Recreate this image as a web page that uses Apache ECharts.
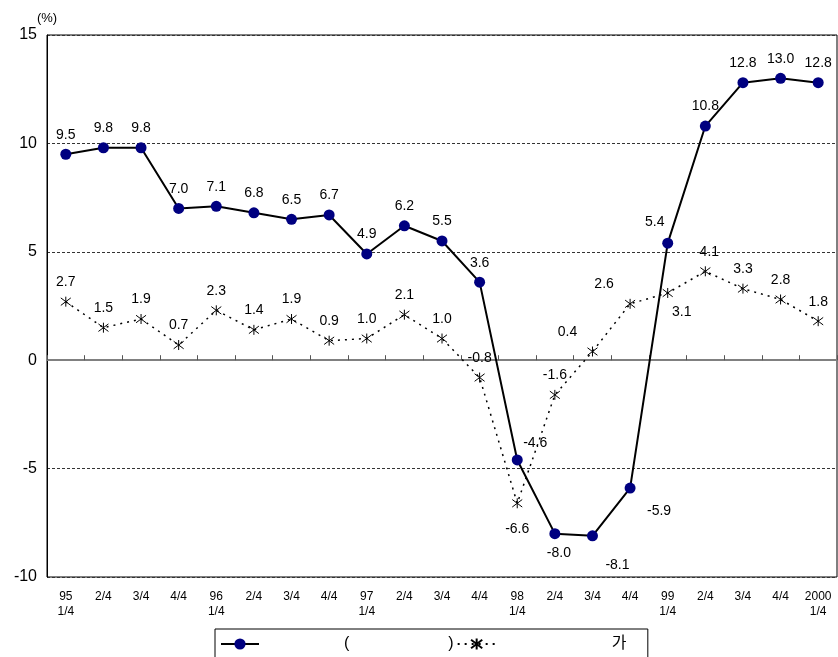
<!DOCTYPE html>
<html><head><meta charset="utf-8">
<script src="https://cdn.jsdelivr.net/npm/echarts@6/dist/echarts.min.js"></script>
<style>html,body{margin:0;padding:0;background:#fff}#c{width:838px;height:657px}</style>
</head><body><div id="c"></div>
<script>
var categories = ['95\n1/4','2/4','3/4','4/4','96\n1/4','2/4','3/4','4/4','97\n1/4','2/4','3/4','4/4','98\n1/4','2/4','3/4','4/4','99\n1/4','2/4','3/4','4/4','2000\n1/4'];
var gdpValues = [9.5, 9.8, 9.8, 7.0, 7.1, 6.8, 6.5, 6.7, 4.9, 6.2, 5.5, 3.6, -4.6, -8.0, -8.1, -5.9, 5.4, 10.8, 12.8, 13.0, 12.8];
var priceValues = [2.7, 1.5, 1.9, 0.7, 2.3, 1.4, 1.9, 0.9, 1.0, 2.1, 1.0, -0.8, -6.6, -1.6, 0.4, 2.6, 3.1, 4.1, 3.3, 2.8, 1.8];
var yTicks = {min: -10, max: 15, interval: 5};
var seriesNames = ['( )', '가'];

var FONT = '"Liberation Sans", Arial, "Noto Sans CJK KR", sans-serif';

// label placement tweaks (index -> style)
var gdpLabelTweaks = {
  12: {position: 'top', offset: [18, 3]},
  13: {position: 'bottom', offset: [4, 0]},
  14: {position: 'bottom', offset: [25, 10]},
  15: {position: 'bottom', offset: [29, 4]},
  16: {position: 'top', offset: [-13, -1]}
};
var priceLabelTweaks = {
  12: {position: 'bottom', offset: [0, 6]},
  14: {position: 'top', offset: [-25, 0]},
  15: {position: 'top', offset: [-26, 0]},
  16: {position: 'bottom', offset: [14, 0]},
  17: {position: 'top', offset: [4, 0]}
};
function buildData(vals, tweaks) {
  return vals.map(function (v, i) {
    var d = {value: v};
    if (tweaks[i]) d.label = tweaks[i];
    return d;
  });
}
var asterisk = 'path://M0,-10L0,10M-7.5,-7.5L7.5,7.5M-7.5,7.5L7.5,-7.5';

var chart = echarts.init(document.getElementById('c'), null, {renderer: 'canvas'});
chart.setOption({
  animation: false,
  textStyle: {fontFamily: FONT},
  grid: {left: 47, right: 1, top: 35, bottom: 80, show: true, borderColor: '#000', borderWidth: 1, backgroundColor: 'transparent'},
  legend: {
    data: seriesNames,
    left: 215, top: 629,
    orient: 'horizontal',
    itemGap: 3,
    itemWidth: 38, itemHeight: 14,
    padding: [7, 17, 20, 5],
    borderColor: '#000', borderWidth: 1,
    formatter: function (name) {
      if (name === seriesNames[0]) return '{p1| }{t|(}{p2| }{t|)}';
      return '{p3| }{t|가}{p4| }';
    },
    textStyle: {
      fontSize: 16, color: '#000', fontFamily: FONT,
      rich: {
        t: {fontSize: 16, color: '#000', fontFamily: FONT},
        p1: {width: 80}, p2: {width: 99}, p3: {width: 111}, p4: {width: 38}
      }
    }
  },
  xAxis: [{
    type: 'category', data: categories, position: 'bottom', boundaryGap: true,
    axisLine: {show: false, onZero: false},
    axisTick: {show: false},
    axisLabel: {interval: 0, fontSize: 12, lineHeight: 15, color: '#000', margin: 12, fontFamily: FONT},
    splitLine: {show: false}
  }, {
    type: 'category', data: categories, position: 'top', boundaryGap: true,
    axisLine: {show: true, onZero: true, lineStyle: {color: '#808080', width: 2}},
    axisTick: {show: true, inside: false, length: 5, lineStyle: {color: '#555', width: 1}},
    axisLabel: {show: false},
    splitLine: {show: false}
  }],
  yAxis: {
    type: 'value', min: yTicks.min, max: yTicks.max, interval: yTicks.interval,
    name: '(%)', nameLocation: 'end', nameGap: 10,
    nameTextStyle: {fontSize: 13, color: '#000', fontFamily: FONT, align: 'center'},
    axisLine: {show: true, lineStyle: {color: '#000', width: 1}},
    axisTick: {show: false},
    axisLabel: {fontSize: 16, color: '#000', margin: 10, fontFamily: FONT},
    splitLine: {show: true, lineStyle: {color: '#333', type: [3, 2], width: 1}}
  },
  series: [{
    name: seriesNames[0], type: 'line', xAxisIndex: 0,
    data: buildData(gdpValues, gdpLabelTweaks),
    symbol: 'circle', symbolSize: 11,
    itemStyle: {color: '#000080'},
    lineStyle: {color: '#000', width: 2},
    label: {show: true, position: 'top', distance: 7, fontSize: 14, color: '#000', fontFamily: FONT,
      formatter: function (p) { return p.value.toFixed(1); }},
    z: 3
  }, {
    name: seriesNames[1], type: 'line', xAxisIndex: 0,
    data: buildData(priceValues, priceLabelTweaks),
    symbol: asterisk, symbolSize: 10,
    itemStyle: {color: 'transparent', borderColor: '#000', borderWidth: 1},
    lineStyle: {color: '#000', width: 1.5, type: [2, 5]},
    label: {show: true, position: 'top', distance: 7, fontSize: 14, color: '#000', fontFamily: FONT,
      formatter: function (p) { return p.value.toFixed(1); }},
    z: 2
  }]
});
</script></body></html>
